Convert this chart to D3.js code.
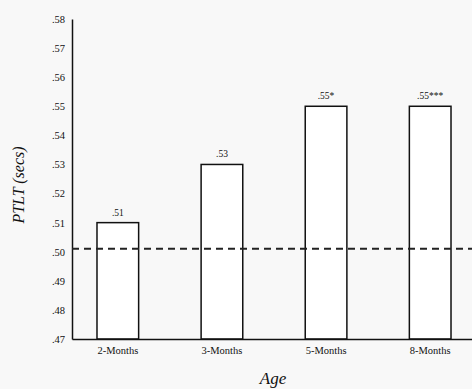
<!DOCTYPE html>
<html>
<head>
<meta charset="utf-8">
<script src="https://cdn.jsdelivr.net/npm/d3@7"></script>
<style>
  body { margin: 0; background: #f8f8f8; }
  svg { display: block; font-family: "Liberation Serif", "DejaVu Serif", serif; }
</style>
</head>
<body>
<svg id="chart"></svg>
<script>
const ages = ["2-Months", "3-Months", "5-Months", "8-Months"];
const ptlt = [0.51, 0.53, 0.55, 0.55];
const barLabels = [".51", ".53", ".55*", ".55***"];
const yTicks = [0.47, 0.48, 0.49, 0.50, 0.51, 0.52, 0.53, 0.54, 0.55, 0.56, 0.57, 0.58];
const chanceLevel = 0.50;

const width = 472, height = 389;
const svg = d3.select("#chart").attr("width", width).attr("height", height);

const x = d3.scaleBand()
  .domain(ages)
  .range([72, 476])
  .paddingInner(0.6)
  .paddingOuter(0.24);

const y = d3.scaleLinear()
  .domain([0.47, 0.58])
  .range([339, 19]);

// y axis
const yAxis = d3.axisLeft(y)
  .tickValues(yTicks)
  .tickSize(0)
  .tickPadding(7)
  .tickFormat(d => d3.format(".2f")(d).replace(/^0/, ""));

svg.append("g")
  .attr("transform", "translate(72,0)")
  .call(yAxis)
  .attr("font-family", null)
  .call(g => g.select(".domain").attr("stroke", "#111").attr("stroke-width", 1.5))
  .call(g => g.selectAll("text").attr("font-size", 10.5).attr("fill", "#111"));

// bars
svg.selectAll(".bar")
  .data(ptlt)
  .enter()
  .append("rect")
  .attr("class", "bar")
  .attr("x", (d, i) => x(ages[i]))
  .attr("y", d => y(d))
  .attr("width", x.bandwidth())
  .attr("height", d => y(0.47) - y(d))
  .attr("fill", "#fff")
  .attr("stroke", "#111")
  .attr("stroke-width", 1.5);

// value labels
svg.selectAll(".val")
  .data(ptlt)
  .enter()
  .append("text")
  .attr("class", "val")
  .attr("x", (d, i) => x(ages[i]) + x.bandwidth() / 2)
  .attr("y", d => y(d) - 7)
  .attr("text-anchor", "middle")
  .attr("font-size", 9.5)
  .attr("fill", "#111")
  .text((d, i) => barLabels[i]);

// dashed chance line
svg.append("line")
  .attr("x1", 72)
  .attr("x2", width)
  .attr("y1", y(chanceLevel) - 3)
  .attr("y2", y(chanceLevel) - 3)
  .attr("stroke", "#222")
  .attr("stroke-width", 2)
  .attr("stroke-dasharray", "7,5");

// x axis
const xAxis = d3.axisBottom(x).tickSize(0).tickPadding(8);
svg.append("g")
  .attr("transform", "translate(0,339)")
  .call(xAxis)
  .attr("font-family", null)
  .call(g => g.select(".domain").attr("stroke", "#111").attr("stroke-width", 1.5))
  .call(g => g.selectAll("text").attr("font-size", 10.5).attr("fill", "#111"));

// axis titles
svg.append("text")
  .attr("x", 273)
  .attr("y", 384)
  .attr("text-anchor", "middle")
  .attr("font-size", 17)
  .attr("font-style", "italic")
  .attr("fill", "#111")
  .text("Age");

svg.append("text")
  .attr("transform", "translate(24,185) rotate(-90)")
  .attr("text-anchor", "middle")
  .attr("font-size", 16)
  .attr("font-style", "italic")
  .attr("fill", "#111")
  .text("PTLT (secs)");
</script>
</body>
</html>
